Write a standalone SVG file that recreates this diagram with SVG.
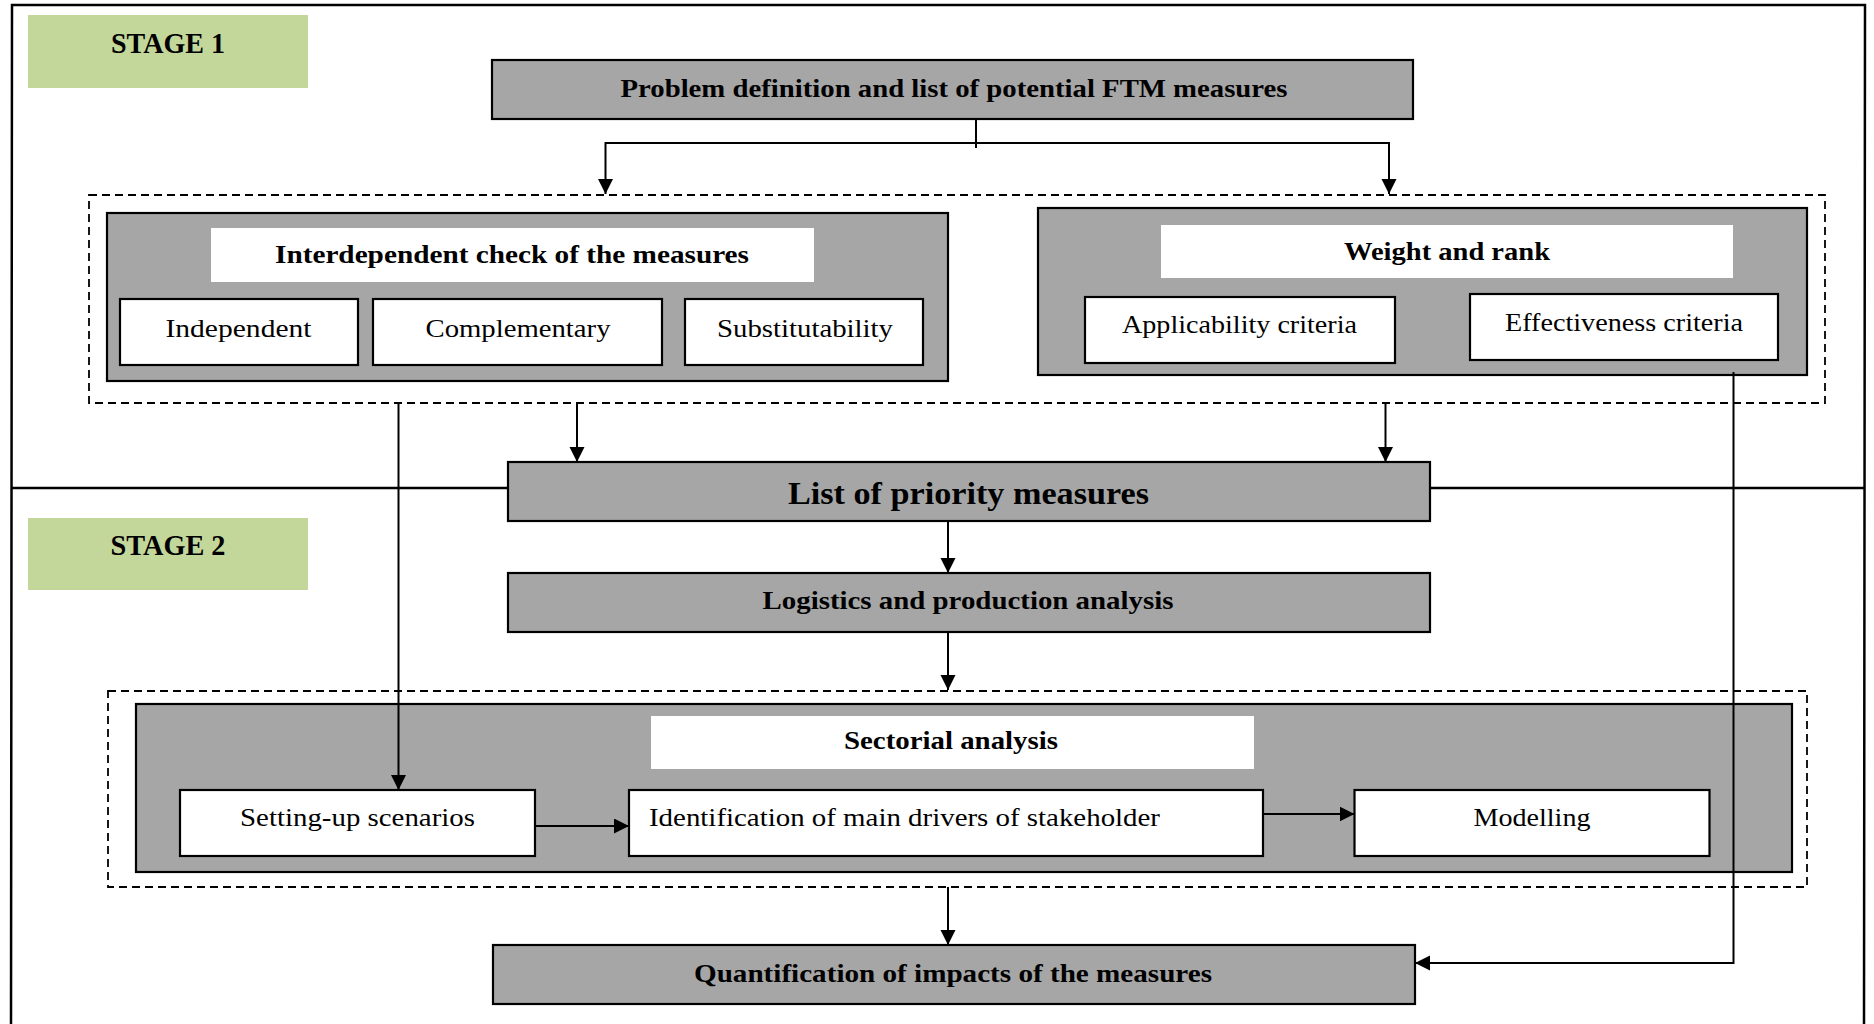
<svg xmlns="http://www.w3.org/2000/svg" width="1874" height="1024" viewBox="0 0 1874 1024">
  <defs>
    <marker id="arrow" markerUnits="userSpaceOnUse" markerWidth="16" markerHeight="16" refX="15" refY="7.5" orient="auto">
      <path d="M0,0 L15,7.5 L0,15 Z" fill="#000"/>
    </marker>
    <style>
      .frame { fill: none; stroke: #000; stroke-width: 2.5; }
      .stage { fill: #c4d79b; }
      .grey { fill: #a6a6a6; stroke: #000; stroke-width: 2.2; }
      .white { fill: #fff; stroke: #000; stroke-width: 2.2; }
      .title { fill: #fff; }
      .dash { fill: none; stroke: #000; stroke-width: 1.8; stroke-dasharray: 8 5; }
      .link { fill: none; stroke: #000; stroke-width: 2; }
      .arrow { marker-end: url(#arrow); }
      text { font-family: "Liberation Serif", "Times New Roman", serif; fill: #000; text-anchor: middle; }
      .b { font-weight: bold; font-size: 26px; }
      .r { font-size: 26px; }
      .big { font-weight: bold; font-size: 32px; }
      .st { font-weight: bold; font-size: 29px; }
    </style>
  </defs>

  <rect width="1874" height="1024" fill="#fff"/>

  <!-- outer frame and stage divider -->
  <g id="frame">
    <path class="frame" d="M11,1024 L12,5 L1865,5 L1864,1024"/>
    <line x1="11" y1="488" x2="1865" y2="488" stroke="#000" stroke-width="2.5"/>
  </g>

  <!-- stage labels -->
  <g id="stage1">
    <rect class="stage" x="28" y="15" width="280" height="73"/>
    <text class="st" x="168" y="53" textLength="114" lengthAdjust="spacingAndGlyphs">STAGE 1</text>
  </g>
  <g id="stage2">
    <rect class="stage" x="28" y="518" width="280" height="72"/>
    <text class="st" x="168" y="555" textLength="115" lengthAdjust="spacingAndGlyphs">STAGE 2</text>
  </g>

  <!-- stage 1 -->
  <g id="problem">
    <rect class="grey" x="492" y="60" width="921" height="59"/>
    <text class="b" x="954" y="97" textLength="667" lengthAdjust="spacingAndGlyphs">Problem definition and list of potential FTM measures</text>
  </g>

  <g id="screening-group">
    <rect class="dash" x="89" y="195" width="1736" height="208"/>
  </g>

  <g id="interdependent-check">
    <rect class="grey" x="107" y="213" width="841" height="168"/>
    <rect class="title" x="211" y="228" width="603" height="54"/>
    <text class="b" x="512" y="263" textLength="474" lengthAdjust="spacingAndGlyphs">Interdependent check of the measures</text>
  </g>
  <g id="independent">
    <rect class="white" x="120" y="299" width="238" height="66"/>
    <text class="r" x="238.5" y="337" textLength="146" lengthAdjust="spacingAndGlyphs">Independent</text>
  </g>
  <g id="complementary">
    <rect class="white" x="373" y="299" width="289" height="66"/>
    <text class="r" x="518" y="337" textLength="185" lengthAdjust="spacingAndGlyphs">Complementary</text>
  </g>
  <g id="substitutability">
    <rect class="white" x="685" y="299" width="238" height="66"/>
    <text class="r" x="805" y="337" textLength="176" lengthAdjust="spacingAndGlyphs">Substitutability</text>
  </g>

  <g id="weight-rank">
    <rect class="grey" x="1038" y="208" width="769" height="167"/>
    <rect class="title" x="1161" y="225" width="572" height="53"/>
    <text class="b" x="1447" y="260" textLength="206" lengthAdjust="spacingAndGlyphs">Weight and rank</text>
  </g>
  <g id="applicability">
    <rect class="white" x="1085" y="297" width="310" height="66"/>
    <text class="r" x="1239.5" y="333" textLength="235" lengthAdjust="spacingAndGlyphs">Applicability criteria</text>
  </g>
  <g id="effectiveness">
    <rect class="white" x="1470" y="294" width="308" height="66"/>
    <text class="r" x="1624" y="331" textLength="238" lengthAdjust="spacingAndGlyphs">Effectiveness criteria</text>
  </g>

  <g id="priority-list">
    <rect class="grey" x="508" y="462" width="922" height="59"/>
    <text class="big" x="968.5" y="504" textLength="361" lengthAdjust="spacingAndGlyphs">List of priority measures</text>
  </g>

  <!-- stage 2 -->
  <g id="logistics">
    <rect class="grey" x="508" y="573" width="922" height="59"/>
    <text class="b" x="968" y="609" textLength="411" lengthAdjust="spacingAndGlyphs">Logistics and production analysis</text>
  </g>

  <g id="sectorial-group">
    <rect class="dash" x="108" y="691" width="1699" height="196"/>
  </g>
  <g id="sectorial-analysis">
    <rect class="grey" x="136" y="704" width="1656" height="168"/>
    <rect class="title" x="651" y="716" width="603" height="53"/>
    <text class="b" x="951" y="749" textLength="214" lengthAdjust="spacingAndGlyphs">Sectorial analysis</text>
  </g>
  <g id="scenarios">
    <rect class="white" x="180" y="790" width="355" height="66"/>
    <text class="r" x="357.5" y="826" textLength="235" lengthAdjust="spacingAndGlyphs">Setting-up scenarios</text>
  </g>
  <g id="drivers">
    <rect class="white" x="629" y="790" width="634" height="66"/>
    <text class="r" x="904.5" y="826" textLength="511" lengthAdjust="spacingAndGlyphs">Identification of main drivers of stakeholder</text>
  </g>
  <g id="modelling">
    <rect class="white" x="1354.5" y="790" width="355" height="66"/>
    <text class="r" x="1532" y="826" textLength="117" lengthAdjust="spacingAndGlyphs">Modelling</text>
  </g>

  <g id="quantification">
    <rect class="grey" x="493" y="945" width="922" height="59"/>
    <text class="b" x="953" y="982" textLength="518" lengthAdjust="spacingAndGlyphs">Quantification of impacts of the measures</text>
  </g>

  <!-- connectors -->
  <g id="connectors">
    <path class="link" d="M976,119 V148"/>
    <path class="link arrow" d="M976,143 H605.5 V194"/>
    <path class="link arrow" d="M976,143 H1389 V194"/>
    <path class="link arrow" d="M577,403 V462"/>
    <path class="link arrow" d="M1385.5,403 V462"/>
    <path class="link arrow" d="M398.5,403 V790"/>
    <path class="link arrow" d="M948,521 V573"/>
    <path class="link arrow" d="M948,632 V690"/>
    <path class="link arrow" d="M948,887 V945"/>
    <path class="link arrow" d="M535,826 H629"/>
    <path class="link arrow" d="M1263,814 H1354.5"/>
    <path class="link arrow" d="M1733.5,372 V963 H1415"/>
  </g>
</svg>
